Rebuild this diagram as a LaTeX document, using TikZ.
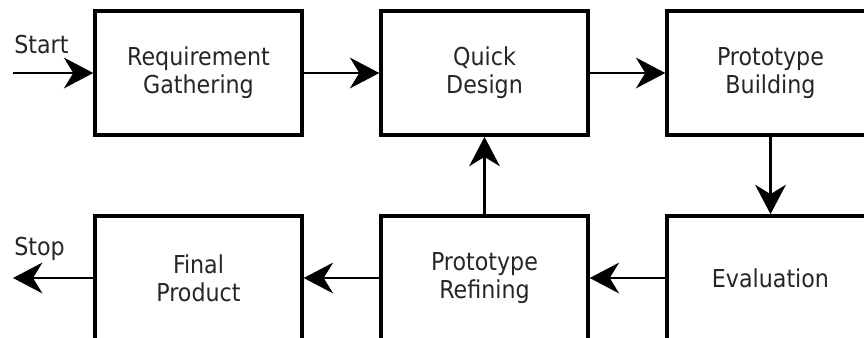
\documentclass[tikz,border=0pt]{standalone}
\usepackage{fontspec}
\setmainfont{DejaVu Sans Condensed}
\usepackage{tikz}
\usetikzlibrary{arrows.meta}
\definecolor{ink}{HTML}{262626}
\tikzset{
  every picture/.style={line join=miter, >={Stealth[length=22pt,width=23pt,inset=7pt]}},
  phase/.style={draw=black, line width=2.8pt, fill=white, minimum width=155pt, minimum height=93pt,
    inner sep=0pt, align=center, text=ink, font=\fontsize{18.5}{21}\selectfont},
  flow/.style={->, line width=2.2pt},
  endlabel/.style={anchor=base west, inner sep=0pt, text=ink, font=\fontsize{18.5}{21}\selectfont},
}

\begin{document}
\begin{tikzpicture}[x=0.75pt,y=-0.75pt]
\clip (0,0) rectangle (864,337);
% top row
\node[phase] (req)   at (198.5,73)  {Requirement\\Gathering};
\node[phase] (quick) at (484.5,73)  {Quick\\Design};
\node[phase] (build) at (770.5,73)  {Prototype\\Building};
% bottom row
\node[phase] (final)  at (198.5,278) {Final\\Product};
\node[phase] (refine) at (484.5,278) {Prototype\\Refining};
\node[phase] (eval)   at (770.5,278) {Evaluation};
% loose ends
\coordinate (start) at (13,73);
\coordinate (stop)  at (13,278);
\node[endlabel] (startlbl) at (14,53)  {Start};
\node[endlabel] (stoplbl)  at (14,255) {Stop};
% arrows
\draw[flow] (start) -- (req.west);
\draw[flow] (req) -- (quick);
\draw[flow] (quick) -- (build);
\draw[flow] (build) -- (eval);
\draw[flow] (eval) -- (refine);
\draw[flow] (refine) -- (quick);
\draw[flow] (refine) -- (final);
\draw[flow] (final.west) -- (stop);
\end{tikzpicture}
\end{document}
